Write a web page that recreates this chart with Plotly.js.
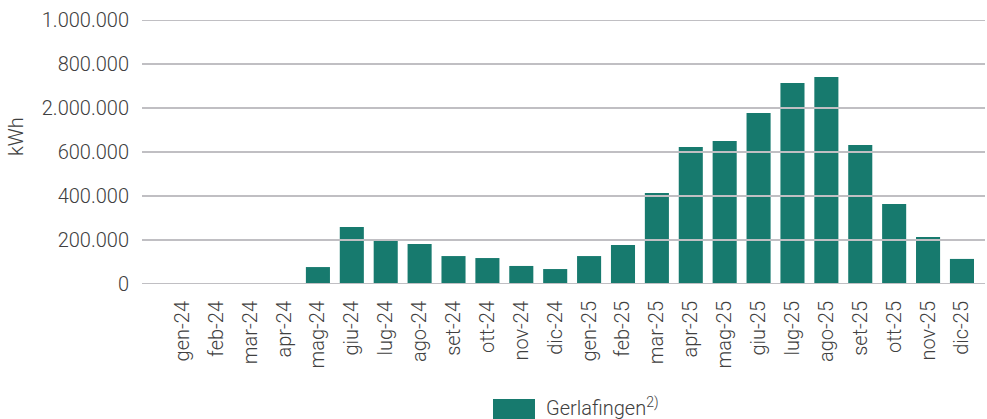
<!DOCTYPE html>
<html><head><meta charset="utf-8">
<script src="https://cdn.plot.ly/plotly-3.0.1.min.js"></script>
<style>html,body{margin:0;padding:0;background:#fff}#chart{width:987px;height:419px}</style>
</head><body><div id="chart"></div>
<script>
const months = ['gen-24','feb-24','mar-24','apr-24','mag-24','giu-24','lug-24','ago-24','set-24','ott-24','nov-24','dic-24',
                'gen-25','feb-25','mar-25','apr-25','mag-25','giu-25','lug-25','ago-25','set-25','ott-25','nov-25','dic-25'];
const gerlafingen = [0,0,0,0,77000,259000,205000,182000,127000,118000,82000,68000,
                     127000,177000,414000,623000,650000,777000,914000,941000,632000,364000,214000,114000];
const yTickVals = [0,200000,400000,600000,800000,1000000,1200000];
const yTickText = ['0','200.000','400.000','600.000','2.000.000','800.000','1.000.000'];
const seriesName = 'Gerlafingen';
const unitLabel = 'kWh';

const gridShapes = yTickVals.map(v => ({type:'line', xref:'paper', yref:'y', x0:0, x1:1, y0:v, y1:v,
  line:{color:'#c0bfc3', width:2}, layer:'above'}));
const legendShape = {type:'rect', xref:'paper', yref:'paper', x0:(493-142)/843, x1:(535-142)/843,
  y0:-(419-284)/264 - 0.02, y1:-(399-284)/264, fillcolor:'#177a6e', line:{width:0}, layer:'above'};

const font = {family:'Roboto, sans-serif', size:20, color:'#404040', weight:300};
Plotly.newPlot('chart', [{
  type:'bar', x:months, y:gerlafingen, name:seriesName, marker:{color:'#177a6e'}, showlegend:false
}], {
  width:987, height:419,
  margin:{l:142, r:2, t:20, b:135},
  paper_bgcolor:'#fff', plot_bgcolor:'#fff',
  bargap:0.29,
  font:font,
  xaxis:{type:'category', range:[-1.19,23.68], tickangle:-90, showgrid:false, zeroline:false,
         showline:false, ticks:'', ticklabelstandoff:12, tickfont:font},
  yaxis:{range:[0,1200000], tickvals:yTickVals, ticktext:yTickText, showgrid:false, zeroline:false,
         ticks:'', ticklabelstandoff:12, tickfont:font},
  shapes:[...gridShapes, legendShape],
  annotations:[
    {xref:'paper', yref:'paper', x:(544-142)/843, y:-(407-284)/264, xanchor:'left', yanchor:'middle',
     text:seriesName+'<sup>2)</sup>', showarrow:false, font:font},
    {xref:'paper', yref:'paper', x:-(142-16)/843, y:(284-137)/264, xanchor:'center', yanchor:'middle',
     textangle:-90, text:unitLabel, showarrow:false, font:font}
  ]
}, {displayModeBar:false});
</script></body></html>
